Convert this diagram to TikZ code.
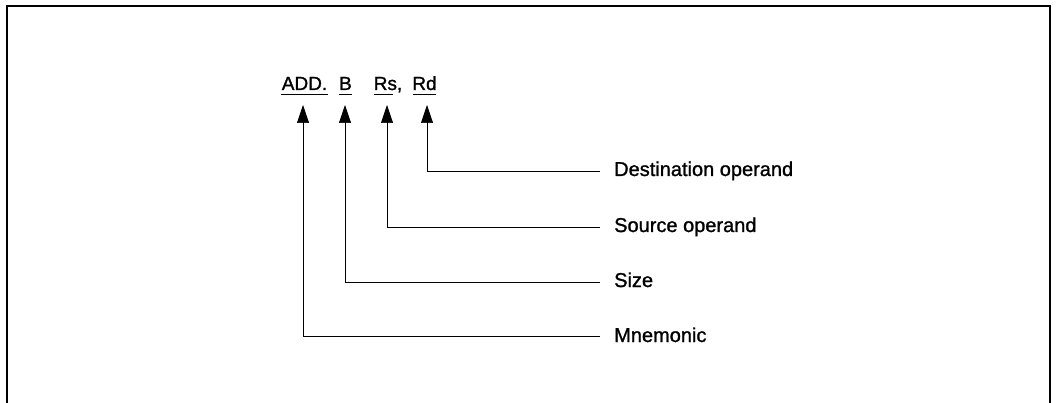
\documentclass[tikz,border=0pt]{standalone}
\usepackage{fontspec}
\setmainfont[FakeBold=1.2]{Liberation Sans}
\newfontfamily\heavyfont[FakeBold=1.2]{Liberation Sans}
\usetikzlibrary{arrows.meta}
\begin{document}
\begin{tikzpicture}[x=1pt,y=-1pt,
  lbl/.style={anchor=base west,inner sep=0pt,font=\heavyfont\fontsize{20}{24}\selectfont},
  tok/.style={anchor=base,inner sep=0pt,font=\heavyfont\fontsize{19}{23}\selectfont},
  lead/.style={line width=0.7pt},
  arr/.style={-{Triangle[length=18pt,width=12pt]},line width=0.7pt}]
\useasboundingbox (0,0) rectangle (1056,403);
\draw[line width=2.4pt] (7,403) -- (7,6) -- (1050,6) -- (1050,403);
% tokens
\node[tok] (add) at (304.5,90) {ADD.};
\node[tok] (b) at (345.5,90) {B};
\node[tok] (rs) at (388,90) {Rs,};
\node[tok] (rd) at (424.5,90) {Rd};
\draw[line width=0.9pt] (281,94) -- (328,94);
\draw[line width=0.9pt] (339,94) -- (352,94);
\draw[line width=0.9pt] (374,94) -- (393,94);
\draw[line width=0.9pt] (413,94) -- (436,94);
% tips
\coordinate (tadd) at (303,105);
\coordinate (tb) at (345,105);
\coordinate (trs) at (387,105);
\coordinate (trd) at (427,105);
% labels
\node[lbl] (ldst) at (614,176) {Destination operand};
\node[lbl] (lsrc) at (614,232) {Source operand};
\node[lbl] (lsize) at (614,287) {Size};
\node[lbl] (lmn) at (614,342) {Mnemonic};
\coordinate (edst) at (600,171);
\coordinate (esrc) at (600,227);
\coordinate (esize) at (600,282);
\coordinate (emn) at (600,336);
\draw[lead] (edst) -| (427,115);
\draw[arr] (427,116) -- (trd);
\draw[lead] (esrc) -| (387,115);
\draw[arr] (387,116) -- (trs);
\draw[lead] (esize) -| (345,115);
\draw[arr] (345,116) -- (tb);
\draw[lead] (emn) -| (303,115);
\draw[arr] (303,116) -- (tadd);
\end{tikzpicture}
\end{document}
